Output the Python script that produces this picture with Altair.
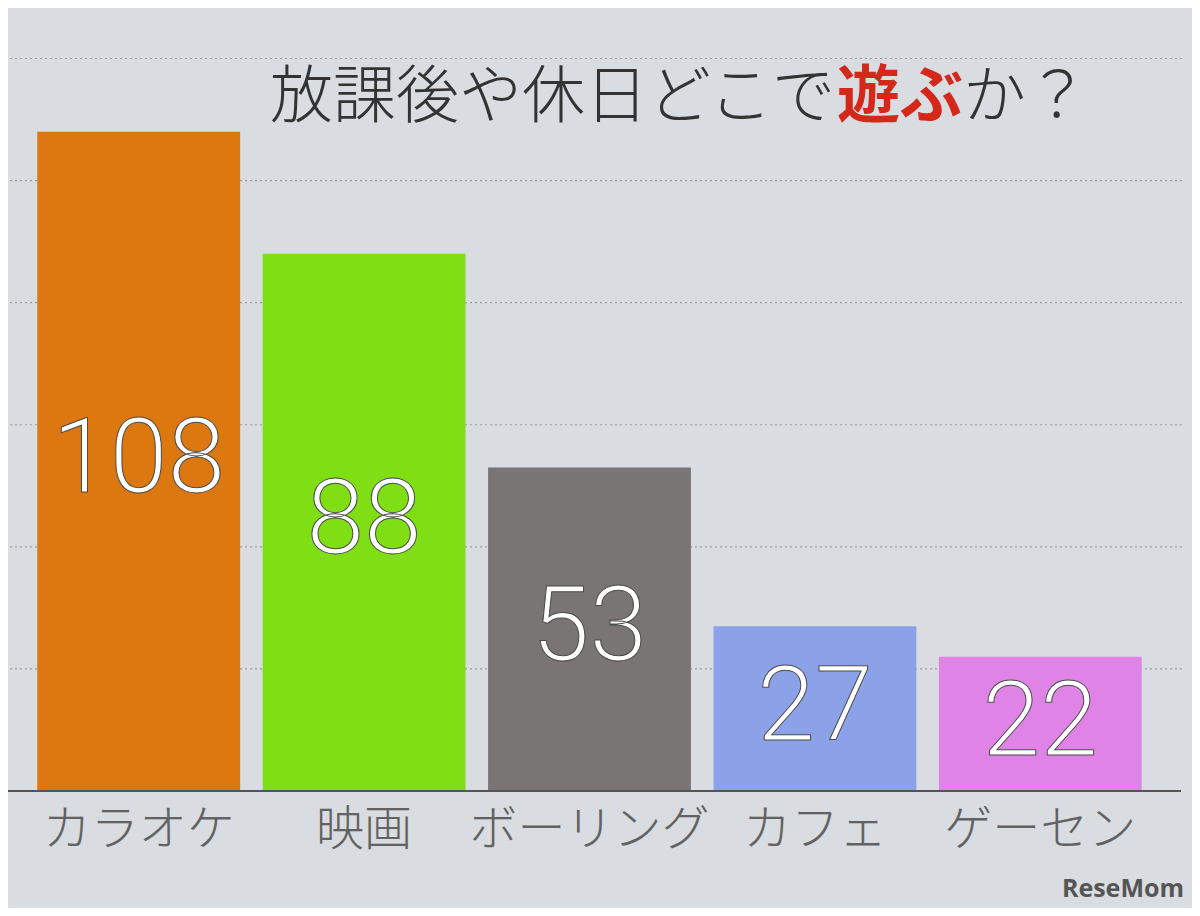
import altair as alt
import pandas as pd

categories = ["カラオケ", "映画", "ボーリング", "カフェ", "ゲーセン"]
values = [108, 88, 53, 27, 22]
colors = ["#dd770f", "#80df14", "#787574", "#8ca2e8", "#df84e6"]
grid_values = [20, 40, 60, 80, 100, 120]
title_parts = ["放課後や休日どこで", "遊ぶ", "か？"]

W, H = 1127, 763
TITLE_SIZE = 63
TITLE_X0 = 244
TITLE_Y = 70

df = pd.DataFrame({"cat": categories, "value": values, "color": colors})
df["half"] = df["value"] / 2
grid_df = pd.DataFrame({"g": grid_values})

x = alt.X("cat:N", sort=categories, title=None,
          scale=alt.Scale(paddingInner=0.1, paddingOuter=0.05),
          axis=alt.Axis(labelFontSize=48, labelFont="Noto Sans CJK JP", labelFontWeight=300,
                        labelColor="#626262", labelAngle=0, ticks=False, tickSize=0,
                        domain=False, labelPadding=39, labelBaseline="middle",
                        labelLimit=0, labelOverlap=False))
yscale = alt.Scale(domain=[0, 125], nice=False)

grid = alt.Chart(grid_df).mark_rule(color="#9a9a9a", strokeDash=[2, 3], strokeWidth=1.2).encode(
    y=alt.Y("g:Q", scale=yscale, axis=None),
    x=alt.value(-21), x2=alt.value(W + 32))

bars = alt.Chart(df).mark_bar().encode(
    x=x,
    y=alt.Y("value:Q", scale=yscale, axis=None),
    color=alt.Color("color:N", scale=None))

labels = alt.Chart(df).mark_text(font="Roboto", fontWeight=300, fontSize=104, fill="white",
                                 stroke="#4a4a4a", strokeWidth=1.0, baseline="middle").encode(
    x=alt.X("cat:N", sort=categories),
    y=alt.Y("half:Q", scale=yscale),
    text="value:Q")

baseline = alt.Chart(df).mark_rule(color="#555555", strokeWidth=1.5).encode(
    x=alt.value(-26), x2=alt.value(W + 28), y=alt.value(H))

t_layers = []
offset = TITLE_X0
for i, part in enumerate(title_parts):
    red = (i == 1)
    t = alt.Chart(pd.DataFrame({"t": [part]})).mark_text(
        font="Noto Sans CJK JP", fontSize=TITLE_SIZE, fontWeight=700 if red else 300,
        color="#d4281a" if red else "#333333", align="left", baseline="middle").encode(
        text="t:N", x=alt.value(offset), y=alt.value(TITLE_Y))
    t_layers.append(t)
    offset += TITLE_SIZE * len(part)

wm = alt.Chart(pd.DataFrame({"t": ["ReseMom"]})).mark_text(
    font="Open Sans", fontWeight=700, fontSize=25, color="#555555", align="right",
    baseline="middle").encode(text="t:N", x=alt.value(W + 31), y=alt.value(H + 98))

chart = alt.layer(grid, bars, labels, baseline, *t_layers, wm).properties(
    width=W, height=H, background="#d9dce1",
    autosize=alt.AutoSizeParams(type="none"),
    padding={"left": 18, "top": 20, "right": 39, "bottom": 117},
).configure_view(stroke=None)

chart.save("out.html", embed_options={"renderer": "svg", "actions": False})
